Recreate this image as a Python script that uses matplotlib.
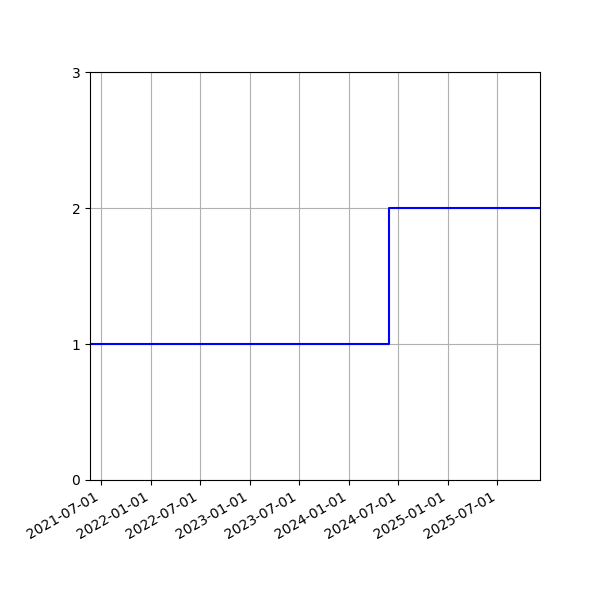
import matplotlib
matplotlib.use("Agg")
import matplotlib.pyplot as plt
import matplotlib.dates as mdates
import numpy as np

dates = np.array(["2021-05-23", "2024-05-28", "2025-12-05"], dtype="datetime64[D]")
values = [1, 2, 2]
yticks = [0, 1, 2, 3]

fig, ax = plt.subplots(figsize=(6, 6), dpi=100)
ax.step(dates, values, where="post", color="blue", linewidth=1.5)
ax.set_xlim(dates[0], dates[-1])
ax.set_ylim(0, 3)
ax.set_yticks(yticks)
ax.xaxis.set_major_locator(mdates.MonthLocator(bymonth=(1, 7)))
ax.xaxis.set_major_formatter(mdates.DateFormatter("%Y-%m-%d"))
ax.grid(True)
fig.autofmt_xdate()
fig.subplots_adjust(left=0.15, right=0.9, top=0.88, bottom=0.2)
fig.savefig("out.png", dpi=100)
